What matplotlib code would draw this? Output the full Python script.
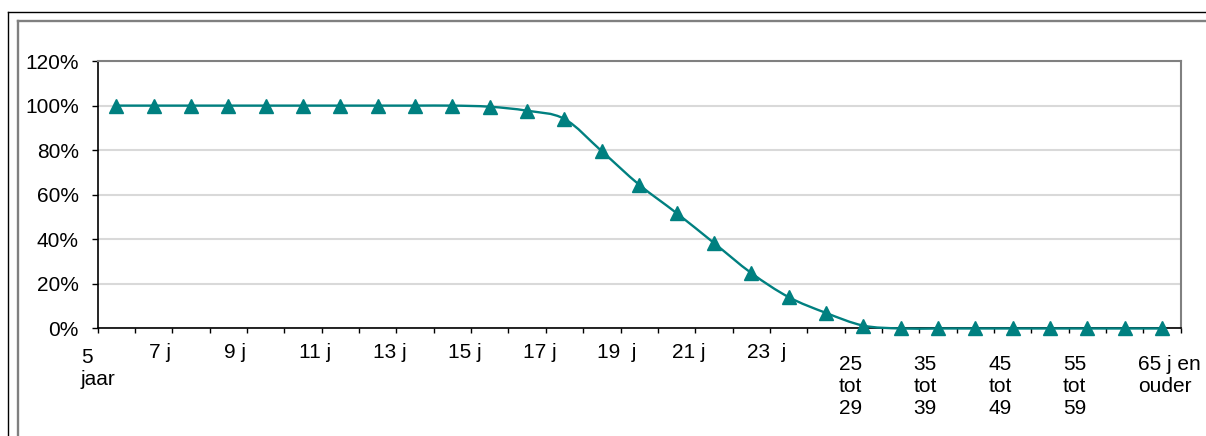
import numpy as np
import matplotlib
matplotlib.use("Agg")
import matplotlib.pyplot as plt
import matplotlib.transforms as mtransforms
from matplotlib.path import Path
from matplotlib.patches import PathPatch
from matplotlib.lines import Line2D

plt.rcParams['font.family'] = ['Liberation Sans', 'DejaVu Sans']

categories = ["5 jaar", "6 j", "7 j", "8 j", "9 j", "10 j", "11 j", "12 j", "13 j", "14 j",
              "15 j", "16 j", "17 j", "18 j", "19 j", "20 j", "21 j", "22 j", "23 j", "24 j",
              "25 tot 29", "30 tot 34", "35 tot 39", "40 tot 44", "45 tot 49",
              "50 tot 54", "55 tot 59", "60 tot 64", "65 j en ouder"]
values = [100, 100, 100, 100, 100, 100, 100, 100, 100, 100,
          99.5, 97.7, 94.0, 79.5, 64.5, 51.8, 38.4, 24.9, 14.1, 7.0,
          1.3, 0, 0, 0, 0, 0, 0, 0, 0]

# shown axis labels (every other category)
label_idx = [0, 2, 4, 6, 8, 10, 12, 14, 16, 18, 20, 22, 24, 26, 28]
label_txt = ["5\njaar", "7 j", "9 j", "11 j", "13 j", "15 j", "17 j", "19  j", "21 j", "23  j",
             "25\ntot\n29", "35\ntot\n39", "45\ntot\n49", "55\ntot\n59", "65 j en\nouder"]

teal = '#008080'
fs = 15

fig = plt.figure(figsize=(12.06, 4.36), dpi=100)
ax = fig.add_axes([0.081, 0.2466, 0.898, 0.6134])

x = np.arange(len(categories))
y = np.array(values, dtype=float)

# smoothed line (Excel style) as bezier segments through the points
verts = [(x[0], y[0])]
codes = [Path.MOVETO]
n = len(x)
for i in range(n - 1):
    p0 = np.array([x[max(i - 1, 0)], y[max(i - 1, 0)]])
    p1 = np.array([x[i], y[i]])
    p2 = np.array([x[i + 1], y[i + 1]])
    p3 = np.array([x[min(i + 2, n - 1)], y[min(i + 2, n - 1)]])
    c1 = p1 + (p2 - p0) / 6
    c2 = p2 - (p3 - p1) / 6
    verts += [tuple(c1), tuple(c2), tuple(p2)]
    codes += [Path.CURVE4] * 3
ax.add_patch(PathPatch(Path(verts, codes), fill=False, edgecolor=teal, lw=1.7,
                       zorder=3, clip_on=False))
ax.plot(x, y, linestyle='none', marker='^', ms=9.5, color=teal, zorder=4, clip_on=False)

ax.set_xlim(-0.5, len(categories) - 0.5)
ax.set_ylim(0, 120)
ax.set_yticks(np.arange(0, 121, 20))
ax.set_yticklabels([f"{v}%" for v in range(0, 121, 20)], fontsize=fs)
ax.yaxis.grid(True, color='#d9d9d9', lw=1.5)
ax.set_axisbelow(True)

ax.set_xticks(np.arange(-0.5, len(categories), 1))
ax.set_xticklabels([])
ax.tick_params(axis='x', direction='out', length=3.5, width=1, color='black')
ax.tick_params(axis='y', direction='out', length=4.5, width=1, color='black', pad=9)

for s in ['left', 'bottom']:
    ax.spines[s].set_color('black')
    ax.spines[s].set_linewidth(1.2)
for s in ['top', 'right']:
    ax.spines[s].set_color('#808080')
    ax.spines[s].set_linewidth(1.5)

base = ax.get_xaxis_transform()
for i, t in zip(label_idx, label_txt):
    if t.startswith("5\n"):
        dx, dy = -0.95, 19.5
    elif "tot" in t or "ouder" in t:
        dx, dy = -0.65, 26.5
    else:
        dx, dy = -1.12, 14.5
    tr = mtransforms.offset_copy(base, fig=fig, y=-dy, units='dots')
    ax.text(i + dx, 0, t, transform=tr, ha='left', va='top', fontsize=fs,
            linespacing=1.2, clip_on=False)

# chart frame (outer black, inner gray)
W, H = 1206, 436
fig.add_artist(Line2D([8 / W, 1], [1 - 12 / H, 1 - 12 / H], color='black', lw=1, transform=fig.transFigure))
fig.add_artist(Line2D([8 / W, 8 / W], [0, 1 - 12 / H], color='black', lw=1, transform=fig.transFigure))
fig.add_artist(Line2D([18 / W, 1], [1 - 21 / H, 1 - 21 / H], color='#808080', lw=1.7, transform=fig.transFigure))
fig.add_artist(Line2D([18 / W, 18 / W], [0, 1 - 21 / H], color='#808080', lw=1.7, transform=fig.transFigure))

fig.savefig('out.png', dpi=100)
